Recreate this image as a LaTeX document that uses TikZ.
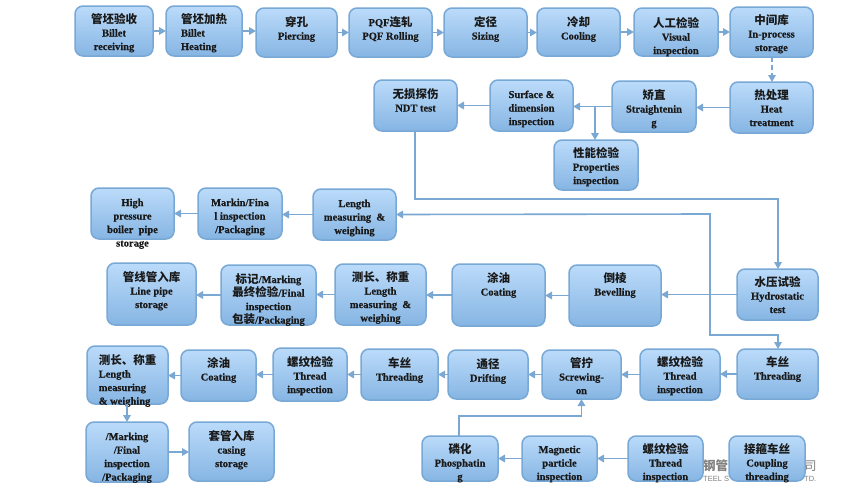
\documentclass[tikz,border=0pt]{standalone}
\usepackage{fontspec}
\setmainfont{Liberation Serif}[BoldFeatures={FakeBold=0.6}]
\newfontfamily\cjk{Noto Sans CJK SC}
\newfontfamily\wmsans{Liberation Sans}
\usetikzlibrary{arrows.meta}
\definecolor{edgeblue}{HTML}{78A8D6}
\definecolor{linkblue}{HTML}{7BA8D3}
\definecolor{topblue}{HTML}{BBDBFA}
\definecolor{botblue}{HTML}{86B5E3}
\newcommand\C[1]{\smash{\cjk\fontsize{11.5}{13.5}\selectfont #1}}
\tikzset{
  x=1pt,y=-1pt,
  boxnode/.style={draw=edgeblue,line width=1.5pt,rounded corners=8pt,top color=topblue,bottom color=botblue,inner sep=0pt,outer sep=0pt},
  boxtext/.style={inner sep=0pt,outer sep=0pt,anchor=north,align=center,text=black!90,font=\bfseries\fontsize{10.5}{13.5}\selectfont},
  conn/.style={draw=linkblue,line width=1.6pt,-{Triangle[length=7pt,width=7.5pt]}},
  connb/.style={draw=linkblue,line width=1.6pt,{Triangle[length=7pt,width=7.5pt]}-{Triangle[length=7pt,width=7.5pt]}},
  wm/.style={inner sep=0pt,text=black!50,anchor=base west}
}
% [text opts]{name}{x1}{y1}{x2}{y2}{first baseline}{text}
\newcommand\bx[8][]{%
  \pgfmathsetmacro\bxw{#5-#3}\pgfmathsetmacro\bxh{#6-#4}%
  \node[boxnode,minimum width=\bxw pt,minimum height=\bxh pt] (#2) at ({(#3+#5)/2},{(#4+#6)/2}) {};
  \node[boxtext,#1] (#2-t) at ({(#3+#5)/2},{#7-9}) {\rule{0pt}{9pt}#8};
}
\newcommand\hc[2]{\draw[conn] (#1.west) -- (#1.west -| #2.east);}
\newcommand\rc[2]{\draw[conn] (#1.east) -- (#1.east -| #2.west);}
\begin{document}
\begin{tikzpicture}
\useasboundingbox (0,0) rectangle (848,498);
% watermark
\node[wm,font=\cjk\bfseries\fontsize{12.5}{14}\selectfont] (wm1) at (703,470) {钢管};
\node[wm,font=\cjk\fontsize{12.5}{14}\selectfont] (wm2) at (804,470) {司};
\node[wm,font=\wmsans\fontsize{7.5}{9}\selectfont] (wm3) at (703,481) {TEEL S};
\node[wm,font=\wmsans\fontsize{7.5}{9}\selectfont] (wm4) at (804,481) {TD.};
% row 1
\bx{a1}{75}{6}{153}{56}{23}{\C{管坯验收}\\Billet\\receiving}
\bx[align=left]{a2}{166}{6}{242}{56}{23}{\C{管坯加热}\\Billet\\Heating}
\bx{a3}{256}{8}{337}{57}{26}{\C{穿孔}\\Piercing}
\bx{a4}{349}{8}{432}{57}{26}{PQF\C{连轧}\\PQF Rolling}
\bx{a5}{444}{8}{527}{57}{26}{\C{定径}\\Sizing}
\bx{a6}{537}{8}{620}{56}{26}{\C{冷却}\\Cooling}
\bx{a7}{634}{8}{718}{56}{27}{\C{人工检验}\\Visual\\inspection}
\bx{a8}{730}{7}{813}{57}{24}{\C{中间库}\\In-process\\storage}
% row 2
\bx{b1}{730}{82}{813}{133}{99}{\C{热处理}\\Heat\\treatment}
\bx{b2}{612}{81}{696}{132}{99}{\C{矫直}\\Straightenin\\g}
\bx{b3}{490}{80}{573}{131}{98}{Surface \&\\dimension\\inspection}
\bx{b4}{374}{80}{457}{131}{98}{\C{无损探伤}\\NDT test}
\bx{p1}{554}{140}{638}{190}{157}{\C{性能检验}\\Properties\\inspection}
% row 3
\bx{c3}{313}{189}{396}{240}{207}{Length\\measuring\ \ \&\\weighing}
\bx{c2}{198}{188}{282}{239}{206}{Markin/Fina\\l inspection\\/Packaging}
\bx{c1}{91}{188}{174}{239}{206}{High\\pressure\\boiler\ \ pipe\\storage}
% row 4
\bx{h1}{737}{269}{818}{320}{286}{\C{水压试验}\\Hydrostatic\\test}
\bx{d5}{569}{265}{661}{326}{282}{\C{倒棱}\\Bevelling}
\bx{d4}{452}{264}{545}{326}{282}{\C{涂油}\\Coating}
\bx{d3}{335}{264}{426}{325}{281}{\C{测长、称重}\\Length\\measuring\ \ \&\\weighing}
\bx{d2}{221}{265}{316}{325}{283}{\C{标记}/Marking\\\C{最终检验}/Final\\inspection\\\C{包装}/Packaging}
\bx{d1}{107}{263}{196}{325}{281}{\C{管线管入库}\\Line pipe\\storage}
% row 5
\bx{e1}{737}{349}{818}{399}{366}{\C{车丝}\\Threading}
\bx{e2}{640}{349}{720}{400}{366}{\C{螺纹检验}\\Thread\\inspection}
\bx{e3}{542}{350}{621}{399}{367}{\C{管拧}\\Screwing-\\on}
\bx{e4}{448}{350}{528}{399}{368}{\C{通径}\\Drifting}
\bx{e5}{361}{349}{438}{400}{367}{\C{车丝}\\Threading}
\bx{e6}{273}{348}{347}{401}{366}{\C{螺纹检验}\\Thread\\inspection}
\bx{e7}{181}{350}{256}{401}{367}{\C{涂油}\\Coating}
\bx[align=left]{e8}{87}{346}{168}{404}{364}{\C{测长、称重}\\Length\\measuring\\\& weighing}
% row 6
\bx{f1}{86}{422}{168}{482}{440}{/Marking\\/Final\\inspection\\/Packaging}
\bx{f2}{189}{422}{274}{481}{440}{\C{套管入库}\\casing\\storage}
\bx{f3}{422}{436}{498}{481}{453}{\C{磷化}\\Phosphatin\\g}
\bx{f4}{522}{436}{597}{481}{453}{Magnetic\\particle\\inspection}
\bx{f5}{628}{436}{703}{481}{453}{\C{螺纹检验}\\Thread\\inspection}
\bx{f6}{729}{436}{805}{481}{453}{\C{接箍车丝}\\Coupling\\threading}
% way points
\coordinate (j1) at (595,106);
\coordinate (n1) at (415,199);
\coordinate (n2) at (778,199);
\coordinate (m1) at (710,214);
\coordinate (m2) at (710,335);
\coordinate (m3) at (778,335);
\coordinate (q1) at (459,416);
\coordinate (q2) at (581.5,416);
\coordinate (d1a) at (772,57);
\coordinate (d1b) at (772,82);
\coordinate (v1) at (127,404);
\coordinate (v2) at (127,422);
% connectors
\rc{a1}{a2}\rc{a2}{a3}\rc{a3}{a4}\rc{a4}{a5}\rc{a5}{a6}\rc{a6}{a7}\rc{a7}{a8}
\draw[conn,dash pattern=on 5pt off 3pt] (d1a) -- (d1b);
\hc{b1}{b2}\hc{b2}{b3}\hc{b3}{b4}
\draw[conn] (j1) -- (j1 |- p1.north);
\draw[conn] (n1 |- b4.south) -- (n1) -- (n2) -- (n2 |- h1.north);
\draw[connb] (c3.east) -- (m1) -- (m2) -- (m3) -- (m3 |- e1.north);
\hc{c3}{c2}\hc{c2}{c1}
\hc{h1}{d5}\hc{d5}{d4}\hc{d4}{d3}\hc{d3}{d2}\hc{d2}{d1}
\hc{e1}{e2}\hc{e2}{e3}\hc{e3}{e4}\hc{e4}{e5}\hc{e5}{e6}\hc{e6}{e7}\hc{e7}{e8}
\draw[conn] (v1) -- (v2);
\rc{f1}{f2}
\hc{f5}{f4}\hc{f4}{f3}
\draw[conn] (q1 |- f3.north) -- (q1) -- (q2) -- (q2 |- e3.south);
\end{tikzpicture}
\end{document}
